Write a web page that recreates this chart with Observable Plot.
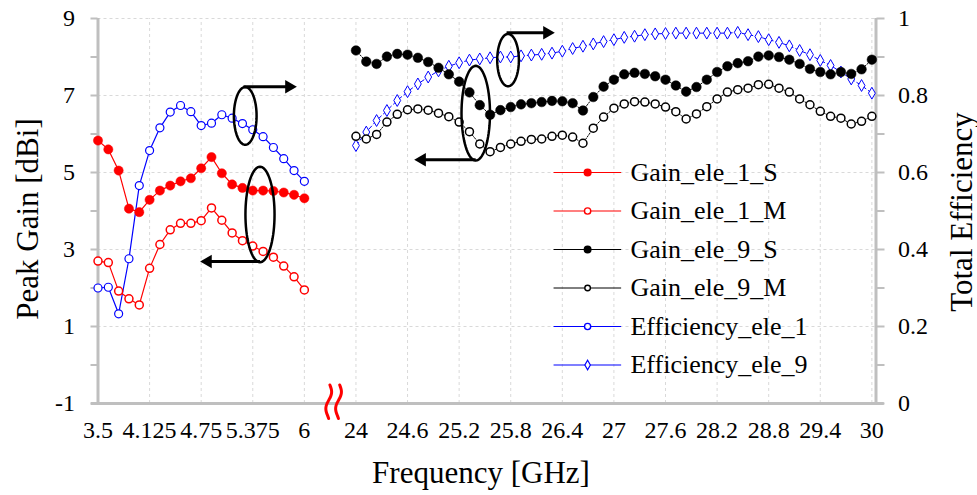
<!DOCTYPE html>
<html><head><meta charset="utf-8">
<script src="https://cdn.jsdelivr.net/npm/d3@7"></script>
<script src="https://cdn.jsdelivr.net/npm/@observablehq/plot@0.6"></script>
<style>body{margin:0;background:#fff}#chart{width:977px;height:495px}</style>
</head><body><div id="chart"></div>
<script>
// ---------------- DATA ----------------
const freqLow = [3.5,3.625,3.75,3.875,4.0,4.125,4.25,4.375,4.5,4.625,4.75,4.875,5.0,5.125,5.25,5.375,5.5,5.625,5.75,5.875,6.0];
const gain1S = [5.83,5.60,5.05,4.06,3.97,4.29,4.53,4.66,4.77,4.85,5.11,5.40,4.98,4.69,4.60,4.53,4.53,4.52,4.48,4.42,4.33];
const gain1M = [2.70,2.66,1.92,1.72,1.56,2.51,3.13,3.51,3.68,3.68,3.75,4.08,3.76,3.43,3.23,3.09,2.95,2.80,2.57,2.29,1.95];
const eff1   = [0.300,0.302,0.233,0.376,0.566,0.657,0.716,0.757,0.774,0.758,0.722,0.728,0.750,0.741,0.727,0.711,0.693,0.665,0.636,0.605,0.577];

const freqHigh = [24.00,24.12,24.24,24.36,24.48,24.60,24.72,24.84,24.96,25.08,25.20,25.32,25.44,25.56,25.68,25.80,25.92,26.04,26.16,26.28,26.40,26.52,26.64,26.76,26.88,27.00,27.12,27.24,27.36,27.48,27.60,27.72,27.84,27.96,28.08,28.20,28.32,28.44,28.56,28.68,28.80,28.92,29.04,29.16,29.28,29.40,29.52,29.64,29.76,29.88,30.00];
const gain9S = [8.17,7.88,7.82,8.01,8.08,8.06,7.98,7.87,7.72,7.55,7.36,7.08,6.75,6.50,6.62,6.70,6.77,6.80,6.83,6.86,6.85,6.80,6.61,6.96,7.23,7.41,7.55,7.59,7.56,7.50,7.41,7.26,7.10,7.22,7.41,7.61,7.76,7.84,7.89,8.01,8.04,8.00,7.93,7.82,7.69,7.61,7.55,7.61,7.56,7.68,7.93];
const gain9M = [5.94,5.87,5.99,6.31,6.51,6.63,6.65,6.62,6.54,6.45,6.31,6.06,5.74,5.54,5.65,5.74,5.81,5.86,5.87,5.94,5.97,5.92,5.76,6.15,6.44,6.67,6.78,6.84,6.83,6.78,6.70,6.58,6.39,6.52,6.71,6.91,7.09,7.15,7.19,7.28,7.29,7.19,7.09,6.91,6.76,6.59,6.46,6.41,6.26,6.33,6.46];
const eff9   = [0.670,0.705,0.735,0.761,0.787,0.810,0.830,0.848,0.864,0.876,0.885,0.892,0.895,0.898,0.900,0.900,0.903,0.905,0.907,0.910,0.915,0.922,0.928,0.934,0.940,0.945,0.951,0.954,0.958,0.960,0.961,0.962,0.962,0.962,0.962,0.962,0.962,0.964,0.958,0.953,0.945,0.938,0.929,0.917,0.906,0.891,0.878,0.861,0.843,0.826,0.806];

// category axis: low band at positions 0..20, gap, high band at 25..75
const highOffset = 25;
const xTickPos = [0,5,10,15,20,25,30,35,40,45,50,55,60,65,70,75];
const xTickLabels = ["3.5","4.125","4.75","5.375","6","24","24.6","25.2","25.8","26.4","27","27.6","28.2","28.8","29.4","30"];
const gainTicks = [-1,1,3,5,7,9];
const gainMinorTicks = [-1,0,1,2,3,4,5,6,7,8,9];
const effTicks = [0,0.2,0.4,0.6,0.8,1];
const effTickLabels = ["0","0.2","0.4","0.6","0.8","1"];
const legendNames = ["Gain_ele_1_S","Gain_ele_1_M","Gain_ele_9_S","Gain_ele_9_M","Efficiency_ele_1","Efficiency_ele_9"];

// annotations (data units: x = category position, y = gain)
const ellipses = [
  {id:"A", cx:14.27, cy:6.47, rx:1.10, ry:0.75},
  {id:"B", cx:15.70, cy:3.91, rx:1.41, ry:1.24},
  {id:"C", cx:36.61, cy:6.54, rx:1.38, ry:1.23},
  {id:"D", cx:39.74, cy:7.92, rx:1.05, ry:0.68}
];
const arrows = [
  {x1:14.1, x2:19.24, y:7.23, dir:1},
  {x1:15.7, x2:9.93, y:2.69, dir:-1},
  {x1:36.6, x2:30.68, y:5.33, dir:-1},
  {x1:39.6, x2:44.24, y:8.63, dir:1}
];
const breakMarks = [{cx:22.35},{cx:23.3}];

// ---------------- HELPERS ----------------
const effToY = e => -1 + 10*e;
const low = freqLow.map((f,i)=>({pos:i, f, g1s:gain1S[i], g1m:gain1M[i], e1:effToY(eff1[i])}));
const high = freqHigh.map((f,i)=>({pos:highOffset+i, f, g9s:gain9S[i], g9m:gain9M[i], e9:effToY(eff9[i])}));

const ellipsePts = ellipses.flatMap(e => d3.range(0, 361, 5).map(a => ({id:e.id, x:e.cx + e.rx*Math.cos(a*Math.PI/180), y:e.cy + e.ry*Math.sin(a*Math.PI/180)})));
const headOffset = 0.72;
const arrowShafts = arrows.map(a => ({x1:a.x1, x2:a.x2 - a.dir*headOffset, y:a.y}));
const arrowHeads = arrows.map(a => ({x:a.x2 - a.dir*headOffset, y:a.y, rot: a.dir > 0 ? 90 : -90}));
const breakPts = breakMarks.flatMap((b,k) => d3.range(0, 1.0001, 0.04).map(t => ({k, x:b.cx + 0.25*(0.5 - t) + 0.22*Math.sin(2*Math.PI*t*1.1), y:-0.52 - 0.87*t})));

const RED = "#ff0000", BLUE = "#0000ff", BLACK = "#000000", GRID = "#d9d9d9", AXIS = "#bfbfbf";
const legendStyle = [
  {stroke:RED, dash:null, symbol:"circle", fill:RED, r:3.8, sw:1.2},
  {stroke:RED, dash:null, symbol:"circle", fill:"white", r:3.3, sw:1.2},
  {stroke:BLACK, dash:"1.5,1.5", symbol:"circle", fill:BLACK, r:3.6, sw:1},
  {stroke:BLACK, dash:"1.5,1.5", symbol:"circle", fill:"white", r:2.6, sw:1},
  {stroke:BLUE, dash:null, symbol:"circle", fill:"white", r:3.2, sw:1.2},
  {stroke:BLUE, dash:"4,3", symbol:"diamond", fill:"white", r:2.8, sw:1.2}
];
const legendRows = legendNames.map((n,i)=>({name:n, y:5 - i, ...legendStyle[i]}));
const legX1 = 44.15, legX2 = 50.7, legXm = 47.45, legXt = 51.6;

const chart = Plot.plot({
  width: 977, height: 495,
  marginLeft: 97.5, marginRight: 101.5, marginTop: 18, marginBottom: 92,
  x: {domain: [0, 75.4]},
  y: {domain: [-1, 9]},
  style: {fontFamily: "'Liberation Serif', 'Times New Roman', serif", fontSize: "24px", color: "black", background: "white", overflow: "visible"},
  marks: [
    // grid
    Plot.ruleX(xTickPos, {y1:-1, y2:9, stroke:GRID, strokeDasharray:"3,3"}),
    Plot.ruleY(gainTicks.filter(d=>d>-1), {x1:0, x2:75.4, stroke:GRID, strokeDasharray:"3,3"}),
    // axis lines
    Plot.ruleY([-1], {x1:-0.65, x2:76.2, stroke:AXIS, strokeWidth:3}),
    Plot.ruleX([0], {y1:-1, y2:9, stroke:AXIS, strokeWidth:3}),
    Plot.ruleX([75.4], {y1:-1, y2:9, stroke:AXIS, strokeWidth:3}),
    // axes
    Plot.axisY(gainMinorTicks, {anchor:"left", tickSize:7, tickFormat:()=>"", stroke:AXIS, strokeWidth:2}),
    Plot.axisY(gainTicks, {anchor:"left", tickSize:0, tickPadding:23, tickFormat:d=>String(d), fill:"black", fontSize:24}),
    Plot.axisY(gainMinorTicks, {anchor:"right", tickSize:8, tickFormat:()=>"", stroke:AXIS, strokeWidth:2}),
    Plot.axisY(effTicks.map(effToY), {anchor:"right", tickSize:0, tickPadding:22, tickFormat:d=>effTickLabels[effTicks.findIndex(e=>Math.abs(effToY(e)-d)<1e-6)], fill:"black", fontSize:24}),
    Plot.axisX(xTickPos, {anchor:"bottom", tickSize:0, tickPadding:17, tickFormat:d=>xTickLabels[xTickPos.indexOf(d)], fill:"black", fontSize:24}),
    // series: lines
    Plot.line(low, {x:"pos", y:"e1", stroke:BLUE, strokeWidth:1.2}),
    Plot.line(low, {x:"pos", y:"g1m", stroke:RED, strokeWidth:1.2}),
    Plot.line(low, {x:"pos", y:"g1s", stroke:RED, strokeWidth:1.2}),
    Plot.line(high, {x:"pos", y:"e9", stroke:BLUE, strokeWidth:1, strokeDasharray:"4,3"}),
    Plot.line(high, {x:"pos", y:"g9m", stroke:BLACK, strokeWidth:1, strokeDasharray:"1.5,1.5"}),
    Plot.line(high, {x:"pos", y:"g9s", stroke:BLACK, strokeWidth:1, strokeDasharray:"1.5,1.5"}),
    // series: markers
    Plot.dot(low, {x:"pos", y:"e1", r:4, fill:"white", stroke:BLUE, strokeWidth:1.2}),
    Plot.dot(low, {x:"pos", y:"g1m", r:4, fill:"white", stroke:RED, strokeWidth:1.5}),
    Plot.dot(low, {x:"pos", y:"g1s", r:4.6, fill:RED, stroke:RED, strokeWidth:0.5}),
    Plot.dot(high, {x:"pos", y:"e9", r:3.6, symbol:"diamond", fill:"white", stroke:BLUE, strokeWidth:1}),
    Plot.dot(high, {x:"pos", y:"g9m", r:4, fill:"white", stroke:BLACK, strokeWidth:1.5}),
    Plot.dot(high, {x:"pos", y:"g9s", r:4.8, fill:BLACK, stroke:BLACK, strokeWidth:0.5}),
    // annotations
    Plot.line(ellipsePts, {x:"x", y:"y", z:"id", stroke:BLACK, strokeWidth:2.5}),
    Plot.link(arrowShafts, {x1:"x1", x2:"x2", y1:"y", y2:"y", stroke:BLACK, strokeWidth:3}),
    Plot.dot(arrowHeads, {x:"x", y:"y", symbol:"triangle", r:5, rotate:"rot", fill:BLACK, stroke:null}),
    // axis break
    Plot.line(breakPts, {x:"x", y:"y", z:"k", stroke:RED, strokeWidth:3, curve:"natural"}),
    // legend
    Plot.link(legendRows, {x1:()=>legX1, x2:()=>legX2, y1:"y", y2:"y", stroke:d=>d.stroke, strokeDasharray:d=>d.dash, strokeWidth:"sw"}),
    Plot.dot(legendRows.filter(d=>d.symbol==="circle"), {x:()=>legXm, y:"y", r:"r", fill:d=>d.fill, stroke:d=>d.stroke, strokeWidth:1.4, symbol:"circle"}),
    Plot.dot(legendRows.filter(d=>d.symbol==="diamond"), {x:()=>legXm, y:"y", r:"r", fill:"white", stroke:BLUE, strokeWidth:1.2, symbol:"diamond"}),
    Plot.text(legendRows, {x:()=>legXt, y:"y", text:"name", textAnchor:"start", fontSize:26, fill:"black"}),
    // titles
    Plot.text(["Frequency [GHz]"], {frameAnchor:"bottom", textAnchor:"middle", lineAnchor:"middle", dy:70, dx:-6, fontSize:31, fill:"black"}),
    Plot.text(["Peak Gain [dBi]"], {frameAnchor:"left", textAnchor:"middle", lineAnchor:"middle", dx:-70, dy:8, rotate:-90, fontSize:31, fill:"black"}),
    Plot.text(["Total Efficiency"], {frameAnchor:"right", textAnchor:"middle", lineAnchor:"middle", dx:86, dy:1, rotate:-90, fontSize:31, fill:"black"})
  ]
});
document.getElementById("chart").appendChild(chart);
</script></body></html>
